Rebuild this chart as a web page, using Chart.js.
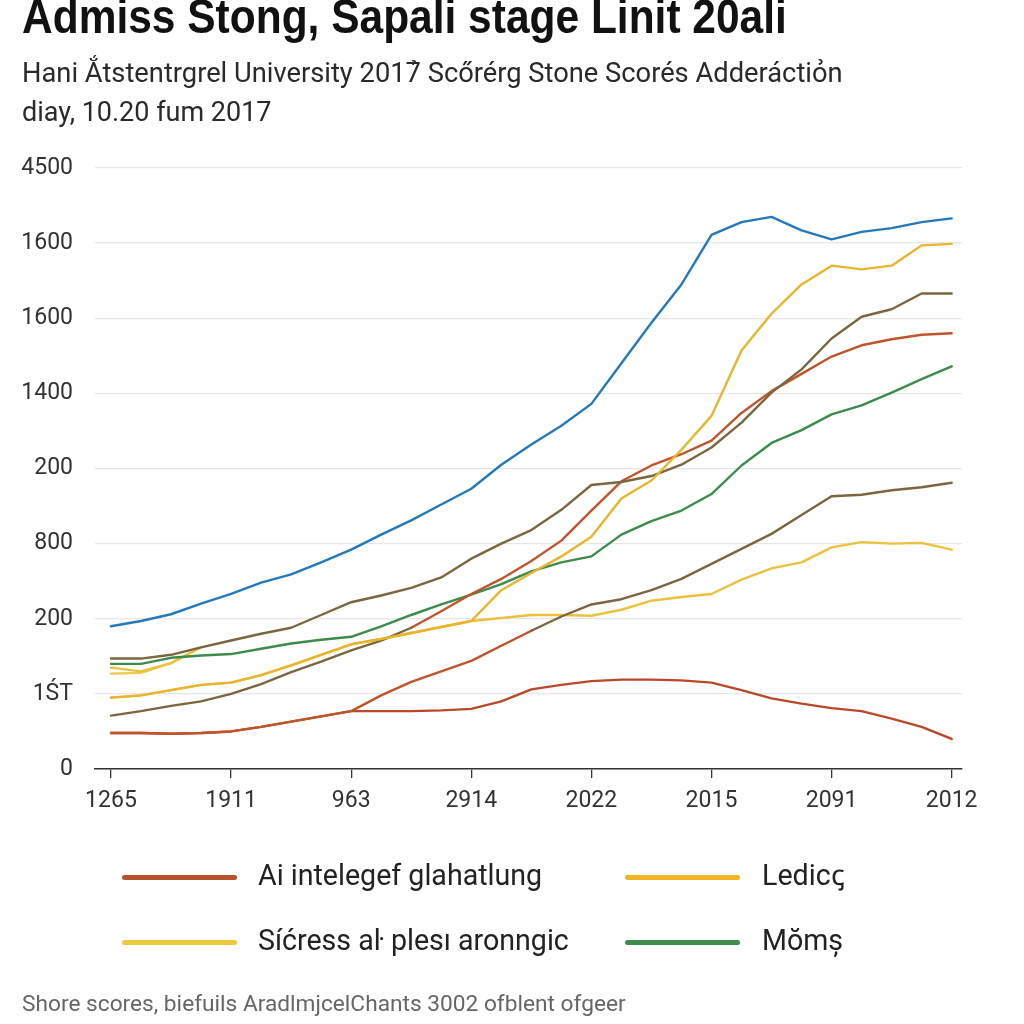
<!DOCTYPE html>
<html>
<head>
<meta charset="utf-8">
<script src="https://cdn.jsdelivr.net/npm/chart.js@4/dist/chart.umd.min.js"></script>
<style>
  html, body { margin: 0; padding: 0; background: #ffffff; }
  #wrap { position: relative; width: 1024px; height: 1024px; overflow: hidden; background: #fff; }
  #c { position: absolute; left: 0; top: 0; }
  .t { position: absolute; white-space: nowrap; color: #222; line-height: 1.15; }
  #title { left: 22px; top: -11px; font: bold 48px "Liberation Sans", Arial, sans-serif; color: #111; transform: scaleX(0.885); transform-origin: 0 0; }
  #sub1 { left: 22px; top: 57px; font: 27.3px Roboto, "Liberation Sans", sans-serif; color: #2a2a2a; }
  #sub2 { left: 22px; top: 96px; font: 27px Roboto, "Liberation Sans", sans-serif; color: #2a2a2a; }
  #foot { left: 22px; top: 990px; font: 22.7px Roboto, "Liberation Sans", sans-serif; color: #666; }
  .lg { position: absolute; height: 5px; width: 115px; border-radius: 3px; }
  .lt { position: absolute; font: 28.6px Roboto, "Liberation Sans", sans-serif; color: #222; white-space: nowrap; line-height: 1.15; }
</style>
</head>
<body>
<div id="wrap">
  <canvas id="c" width="1024" height="1024"></canvas>
  <div class="t" id="title">Admiss Stong, Sapali stage Linit 20ali</div>
  <div class="t" id="sub1">Hani Ắtstentrgrel University 2017̉ Scőrérg Stone Scorés Adderáctiỏn</div>
  <div class="t" id="sub2">diay, 10.20 fum 2017</div>
  <div id="legend"></div>
  <div class="t" id="foot">Shore scores, biefuils AradlmjcelChants 3002 ofblent ofgeer</div>
</div>
<script>
// ---- data ----
const xTickLabels = ['1265', '1911', '963', '2914', '2022', '2015', '2091', '2012'];
const yTickLabels = ['0', '1ŚT', '200', '800', '200', '1400', '1600', '1600', '4500'];
const xPositions = [0, 0.25, 0.5, 0.75, 1, 1.25, 1.5, 1.75, 2, 2.25, 2.5, 2.75, 3, 3.25, 3.5, 3.75, 4, 4.25, 4.5, 4.75, 5, 5.25, 5.5, 5.75, 6, 6.25, 6.5, 6.75, 7];

const blueSeries      = [190,197,206,220,233,248,259,275,292,312,331,352,373,405,432,457,486,540,594,645,711,728,735,717,705,715,720,728,733];
const oliveTopSeries  = [147,147,152,162,171,180,188,205,222,231,241,255,280,300,318,345,378,382,390,405,428,461,501,532,573,602,612,633,633];
const redHighSeries   = [71,77,84,90,100,113,129,143,158,171,188,210,233,253,277,304,344,383,404,419,437,474,503,526,549,564,572,578,580];
const redMidSeries    = [48,48,47,48,50,56,63,70,77,98,116,130,144,164,184,203,219,226,238,253,273,293,313,338,363,365,371,375,381];
const redBottomSeries = [48,48,47,48,50,56,63,70,77,77,77,78,80,90,106,112,117,119,119,118,115,105,94,87,81,77,67,56,40];
const greenSeries     = [140,140,148,151,153,160,167,172,176,190,205,219,232,246,263,275,283,312,330,344,366,404,434,451,472,484,501,519,536];
const goldHighSeries  = [95,98,105,112,115,125,138,152,166,173,181,189,197,238,261,283,309,360,384,425,470,557,606,645,670,665,670,697,699];
const yellowLowSeries = [95,98,105,112,115,125,138,152,166,173,181,189,197,201,205,205,204,212,224,229,233,252,267,275,295,302,300,301,292];
const yellowXSeries   = [135,130,141,162,null,null,null,null,null,null,null,null,null,null,null,null,null,null,null,null,null,null,null,null,null,null,null,null,null];
const yellowYSeries   = [127,128,141,162,null,null,null,null,null,null,null,null,null,null,null,null,null,null,null,null,null,null,null,null,null,null,null,null,null];

const legendLabels = ['Ai intelegef glahatlung', 'Ledicꞔ', 'Síćress aŀ plesı aronngic', 'Mŏmș'];

// ---- colours ----
const C_BLUE = '#2479bd', C_OLIVE = '#7a6740', C_RED = '#c0542b', C_RED2 = '#b9492a',
      C_GREEN = '#3d8b4d', C_GOLD = '#e8b52c', C_YEL = '#ecc23c', C_YEL2 = '#f0c94a';
const legendColors = ['#b8522b', '#f0b624', '#ecca3e', '#3f8b50'];

function pts(arr) { return xPositions.map((x, i) => ({ x: x, y: arr[i] })); }

const ds = (label, arr, color, extra) => Object.assign({
  label: label, data: pts(arr), borderColor: color, backgroundColor: color,
  borderWidth: 2.4, pointRadius: 0, tension: 0, fill: false, spanGaps: false,
  borderJoinStyle: 'round', borderCapStyle: 'round'
}, extra || {});

const datasets = [
  ds('blue', blueSeries, C_BLUE),
  ds('goldHigh', goldHighSeries, C_GOLD),
  ds('oliveTop', oliveTopSeries, C_OLIVE),
  ds('redHigh', redHighSeries, C_RED, { segment: { borderColor: c => c.p0.parsed.x < 2.4 ? C_OLIVE : C_RED } }),
  ds('green', greenSeries, C_GREEN),
  ds('redMid', redMidSeries, C_RED, { segment: { borderColor: c => c.p0.parsed.x < 3.4 ? C_RED : C_OLIVE } }),
  ds('yellowLow', yellowLowSeries, C_YEL),
  ds('redBottom', redBottomSeries, C_RED2),
  ds('yellowX', yellowXSeries, C_YEL),
  ds('yellowY', yellowYSeries, C_YEL2)
];

new Chart(document.getElementById('c'), {
  type: 'line',
  data: { datasets: datasets },
  options: {
    responsive: false, animation: false, devicePixelRatio: 1,
    layout: { padding: { left: 0, right: 62, top: 168, bottom: 195 } },
    plugins: { legend: { display: false }, tooltip: { enabled: false }, title: { display: false } },
    scales: {
      x: {
        type: 'linear', min: -0.133, max: 7.086,
        afterBuildTicks: (axis) => { axis.ticks = xTickLabels.map((_, i) => ({ value: i })); },
        afterFit: (axis) => { axis.height = 60; },
        ticks: {
          autoSkip: false, maxRotation: 0, padding: 9, color: '#333',
          font: { family: 'Roboto, "Liberation Sans", sans-serif', size: 23 },
          callback: (v) => xTickLabels[v]
        },
        grid: { drawOnChartArea: false, drawTicks: true, tickLength: 9, color: '#333', lineWidth: 1.3 },
        border: { display: true, color: '#333', width: 1.6 }
      },
      y: {
        min: 0, max: 800,
        afterBuildTicks: (axis) => { axis.ticks = yTickLabels.map((_, i) => ({ value: i * 100 })); },
        afterFit: (axis) => { axis.width = 95; },
        ticks: {
          padding: 22, color: '#333',
          font: { family: 'Roboto, "Liberation Sans", sans-serif', size: 23 },
          callback: (v) => yTickLabels[Math.round(v / 100)]
        },
        grid: { drawTicks: false, color: '#e6e6e6', lineWidth: 1.3 },
        border: { display: false }
      }
    }
  }
});

// ---- legend (HTML) ----
const legendPos = [[122, 877, 258], [625, 877, 762], [122, 942, 258], [625, 942, 762]];
const lg = document.getElementById('legend');
legendLabels.forEach((txt, i) => {
  const [lx, ly, tx] = legendPos[i];
  const bar = document.createElement('div');
  bar.className = 'lg';
  bar.style.left = lx + 'px'; bar.style.top = (ly - 2.5) + 'px';
  bar.style.background = legendColors[i];
  lg.appendChild(bar);
  const t = document.createElement('div');
  t.className = 'lt';
  t.textContent = txt;
  t.style.left = tx + 'px'; t.style.top = (ly - 18) + 'px';
  lg.appendChild(t);
});
</script>
</body>
</html>
